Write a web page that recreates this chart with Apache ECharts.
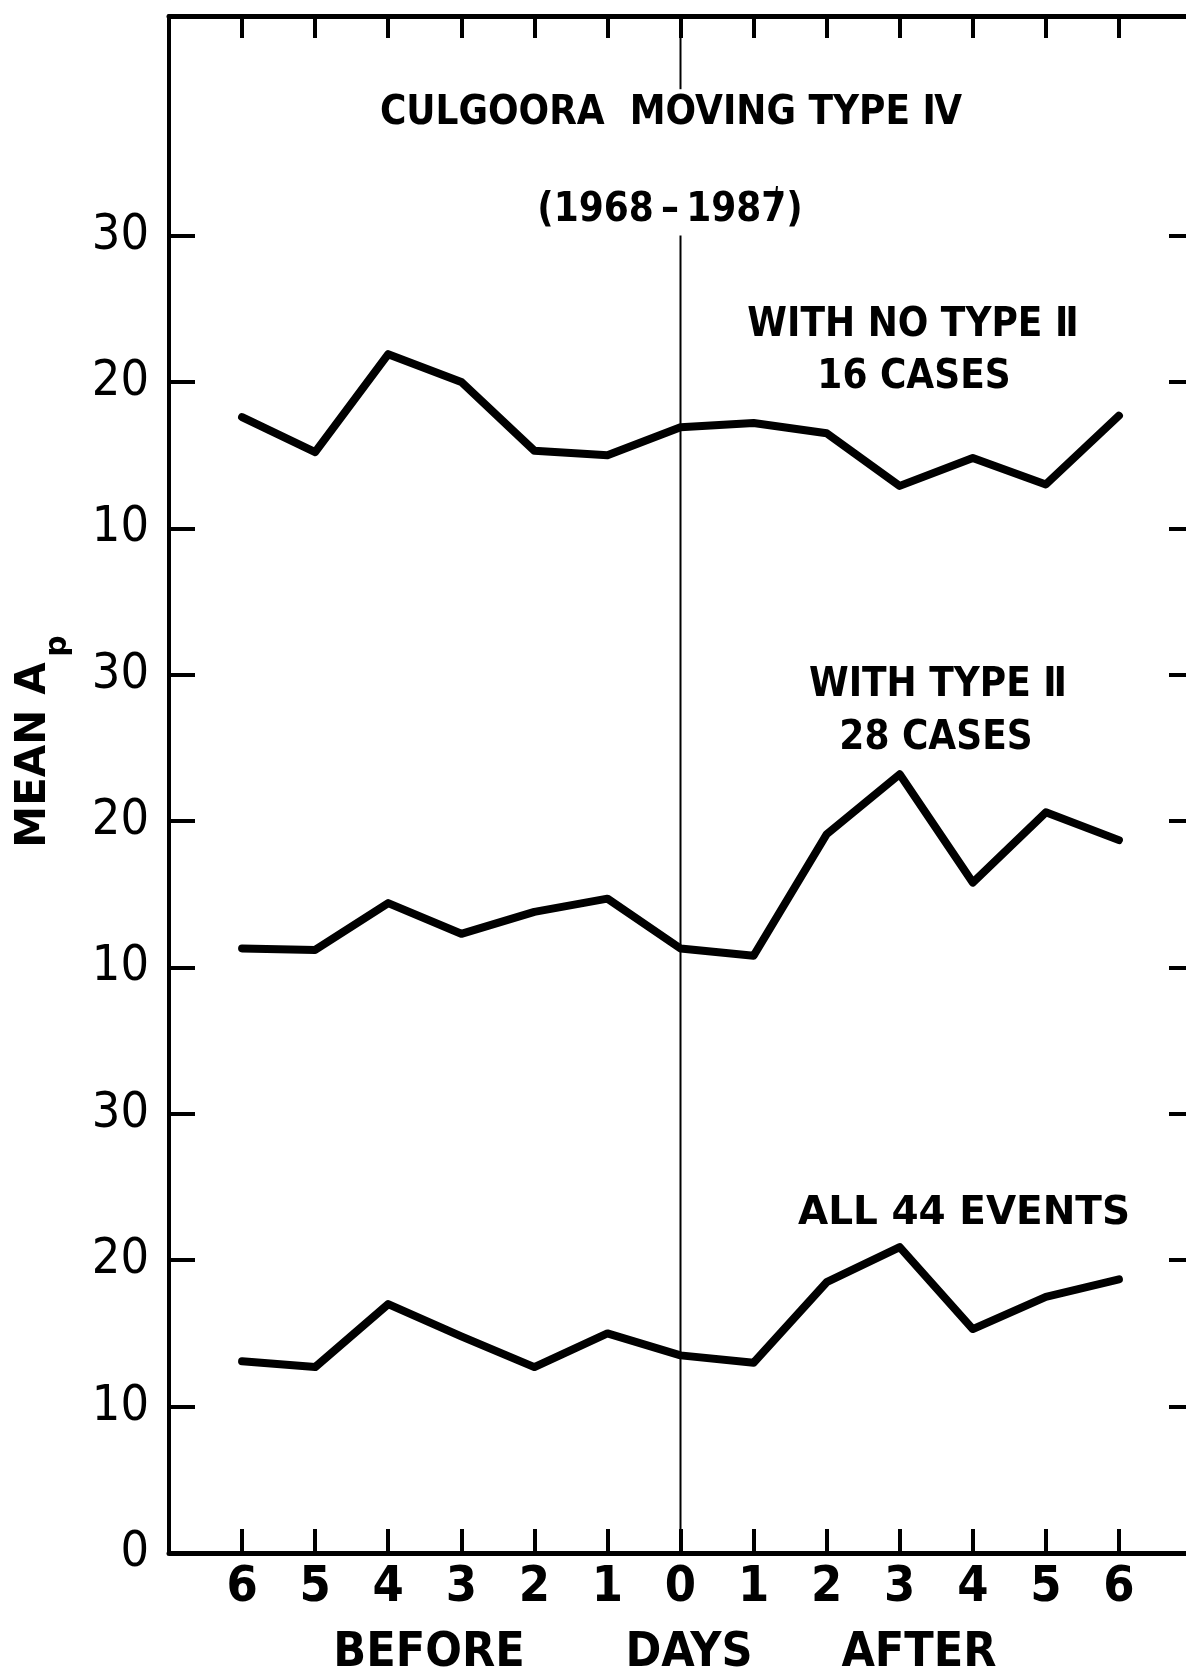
<!DOCTYPE html>
<html>
<head>
<meta charset="utf-8">
<title>Culgoora moving type IV - mean Ap</title>
<script src="https://cdn.jsdelivr.net/npm/echarts@6/dist/echarts.min.js"></script>
<style>
  html, body { margin: 0; padding: 0; background: #fff; }
  #chart { width: 1186px; height: 1675px; }
</style>
</head>
<body>
<div id="chart"></div>
<script>
// days relative to the event (negative = before)
const days = [-6, -5, -4, -3, -2, -1, 0, 1, 2, 3, 4, 5, 6];
// mean Ap
const noTypeII = [17.6, 15.2, 21.9, 20.0, 15.3, 15.0, 16.9, 17.2, 16.5, 12.9, 14.8, 13.0, 17.7];
const withTypeII = [11.3, 11.2, 14.4, 12.3, 13.8, 14.7, 11.3, 10.8, 19.1, 23.2, 15.8, 20.6, 18.7];
const allEvents = [13.1, 12.7, 17.0, 14.8, 12.7, 15.0, 13.5, 13.0, 18.5, 20.9, 15.3, 17.5, 18.7];
// panels are stacked on one axis, each one 30 units high
const panelOffsets = [60, 30, 0];
const yTicks = [0, 10, 20, 30, 40, 50, 60, 70, 80, 90];
// day 0 divider runs full height except behind the title
const dividerLow = [0, 90];
const dividerHigh = [100, 105];

const FONT = '"DejaVu Sans Condensed", "DejaVu Sans", sans-serif';
const WIDE = '"DejaVu Sans", sans-serif';
const chart = echarts.init(document.getElementById('chart'));

function toPoints(vals, offset) {
  return days.map((d, i) => [d, vals[i] + offset]);
}

function yLabel(v) {
  // 0 only at the very bottom, then 10/20/30 repeated per panel
  return v === 0 ? '0' : String((v - 10) % 30 + 10);
}

function txt(text, x, y, size, family) {
  return {
    type: 'text', x: x, y: y, silent: true,
    style: {
      text: text, fill: '#000',
      font: 'bold ' + size + 'px ' + (family || FONT),
      textAlign: 'center', textVerticalAlign: 'middle',
      align: 'center', verticalAlign: 'middle'
    }
  };
}

function divider(name, ys) {
  return {
    name: name, type: 'line', symbol: 'none', silent: true, clip: false, z: 3,
    lineStyle: { color: '#000', width: 2 },
    data: ys.map(y => [0, y])
  };
}

const lineStyle = { color: '#000', width: 8, join: 'round', cap: 'round' };

const option = {
  backgroundColor: '#fff',
  animation: false,
  // the frame's right edge falls just outside the picture
  grid: { left: 169, top: 16, width: 1023, bottom: 122, outerBoundsMode: 'none', containLabel: false },
  xAxis: [{
    type: 'value', min: -7, max: 7, position: 'bottom',
    axisLine: { onZero: false, lineStyle: { color: '#000', width: 5 } },
    axisTick: { inside: true, length: 24, customValues: days, lineStyle: { color: '#000', width: 4 } },
    axisLabel: {
      customValues: days, formatter: v => String(Math.abs(v)),
      color: '#000', fontSize: 50, fontWeight: 'bold', fontFamily: FONT, margin: 10
    },
    splitLine: { show: false }
  }, {
    type: 'value', min: -7, max: 7, position: 'top',
    axisLine: { onZero: false, lineStyle: { color: '#000', width: 5 } },
    axisTick: { inside: true, length: 22, customValues: days, lineStyle: { color: '#000', width: 4 } },
    axisLabel: { show: false },
    splitLine: { show: false }
  }],
  yAxis: [{
    type: 'value', min: 0, max: 105, position: 'left',
    axisLine: { onZero: false, lineStyle: { color: '#000', width: 4 } },
    axisTick: { inside: true, length: 26, customValues: yTicks, lineStyle: { color: '#000', width: 4 } },
    axisLabel: {
      customValues: yTicks, formatter: yLabel,
      color: '#000', fontSize: 50, fontFamily: FONT, margin: 20
    },
    splitLine: { show: false }
  }, {
    type: 'value', min: 0, max: 105, position: 'right',
    axisLine: { show: true, onZero: false, lineStyle: { color: '#000', width: 4 } },
    axisTick: { inside: true, length: 23, customValues: yTicks, lineStyle: { color: '#000', width: 4 } },
    axisLabel: { show: false },
    splitLine: { show: false }
  }],
  series: [
    divider('day 0 (lower)', dividerLow),
    divider('day 0 (upper)', dividerHigh),
    {
      name: 'WITH NO TYPE II', type: 'line', symbol: 'none', silent: true,
      lineStyle: lineStyle, data: toPoints(noTypeII, panelOffsets[0])
    }, {
      name: 'WITH TYPE II', type: 'line', symbol: 'none', silent: true,
      lineStyle: lineStyle, data: toPoints(withTypeII, panelOffsets[1])
    }, {
      name: 'ALL 44 EVENTS', type: 'line', symbol: 'none', silent: true,
      lineStyle: lineStyle, data: toPoints(allEvents, panelOffsets[2])
    }
  ],
  graphic: [
    txt('CULGOORA  MOVING TYPE Ⅳ', 671, 114, 40),
    txt('(1968\u2009–\u20091987)', 670, 211, 40),
    { type: 'line', silent: true, shape: { x1: 777, y1: 186, x2: 775, y2: 205 }, style: { stroke: '#000', lineWidth: 2 } },
    txt('WITH NO TYPE Ⅱ', 913, 326, 40),
    txt('16 CASES', 914, 378, 40),
    txt('WITH TYPE Ⅱ', 938, 686, 40),
    txt('28 CASES', 936, 739, 40),
    txt('ALL 44 EVENTS', 964, 1214, 39, WIDE),
    txt('BEFORE', 429, 1654, 48),
    txt('DAYS', 689, 1654, 48),
    txt('AFTER', 919, 1654, 48),
    // rotated axis title: MEAN A with subscript p
    {
      type: 'text', x: 34, y: 755, rotation: Math.PI / 2, silent: true,
      style: {
        text: 'MEAN A', fill: '#000', font: 'bold 42px ' + WIDE,
        textAlign: 'center', textVerticalAlign: 'middle', align: 'center', verticalAlign: 'middle'
      }
    },
    {
      type: 'text', x: 58, y: 646, rotation: Math.PI / 2, silent: true,
      style: {
        text: 'p', fill: '#000', font: 'bold 30px ' + WIDE,
        textAlign: 'center', textVerticalAlign: 'middle', align: 'center', verticalAlign: 'middle'
      }
    }
  ]
};

chart.setOption(option);
</script>
</body>
</html>
